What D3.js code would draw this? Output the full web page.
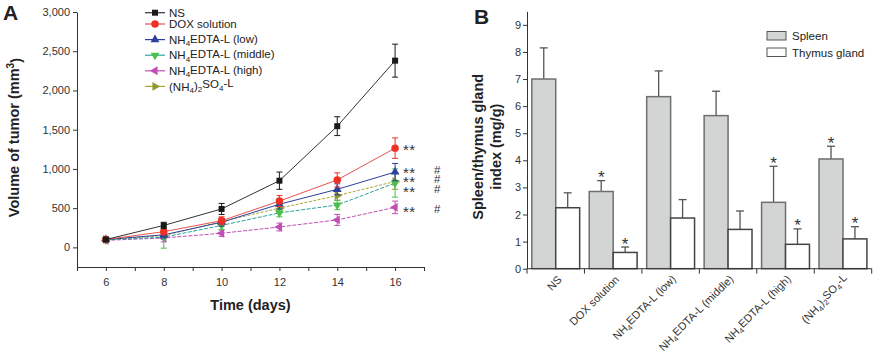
<!DOCTYPE html>
<html>
<head>
<meta charset="utf-8">
<script src="https://cdn.jsdelivr.net/npm/d3@7"></script>
<style>
  body { margin: 0; background: #fff; }
  svg { font-family: "Liberation Sans", Arial, sans-serif; }
  .axis text { font-size: 11px; fill: #333; }
  .axis path, .axis line { stroke: #333; }
</style>
</head>
<body>
<svg id="chart" width="886" height="364"></svg>
<script>
// ---- panel A data ----
const days = [6, 8, 10, 12, 14, 16];
const seriesNames = ['NS', 'DOX solution', 'NH_4EDTA-L (low)', 'NH_4EDTA-L (middle)', 'NH_4EDTA-L (high)', '(NH_4)_2SO_4-L'];
const nsVol = [100, 280, 490, 850, 1545, 2380];
const doxVol = [100, 200, 340, 590, 860, 1265];
const lowVol = [100, 160, 320, 550, 740, 960];
const middleVol = [95, 130, 280, 440, 540, 820];
const highVol = [90, 120, 180, 260, 350, 510];
const so4Vol = [100, 150, 330, 500, 660, 840];
const nsErr = [20, 40, 70, 110, 120, 210];
const doxErr = [15, 40, 50, 70, 90, 130];
const lowErr = [15, 40, 50, 60, 70, 110];
const middleErr = [15, 140, 50, 50, 60, 180];
const highErr = [15, 50, 40, 50, 70, 80];
const so4Err = [15, 30, 40, 50, 60, 100];
const sigStars = ['**', '**', '**', '**', '**'];
const sigHash = ['', '#', '#', '#', '#'];
const sigLevel = [1290, 1000, 885, 755, 500];
const volTicks = [0, 500, 1000, 1500, 2000, 2500, 3000];

// ---- panel B data ----
const groups = ['NS', 'DOX solution', 'NH_4EDTA-L (low)', 'NH_4EDTA-L (middle)', 'NH_4EDTA-L (high)', '(NH_4)_2SO_4-L'];
const organs = ['Spleen', 'Thymus gland'];
const spleen = [7.0, 2.85, 6.35, 5.65, 2.45, 4.05];
const spleenErr = [1.15, 0.4, 0.95, 0.9, 1.33, 0.47];
const thymus = [2.25, 0.6, 1.87, 1.45, 0.9, 1.1];
const thymusErr = [0.55, 0.2, 0.68, 0.68, 0.57, 0.45];
const spleenSig = ['', '*', '', '', '*', '*'];
const thymusSig = ['', '*', '', '', '*', '*'];
const indexTicks = [0, 1, 2, 3, 4, 5, 6, 7, 8, 9];

const svg = d3.select('#chart');

// writes "NH_4EDTA" style labels with subscript digits
function subText(sel, str) {
  let back = false;
  str.split(/(_\d)/).forEach(function(part) {
    if (!part) return;
    if (part[0] === '_') {
      sel.append('tspan').attr('font-size', '0.7em').attr('dy', back ? null : '0.3em').text(part.slice(1));
      back = true;
    } else {
      sel.append('tspan').attr('dy', back ? '-0.3em' : null).text(part);
      back = false;
    }
  });
}

// ================= Panel A =================
const xA = d3.scaleLinear().domain([5, 17]).range([77, 424]);
const yA = d3.scaleLinear().domain([-250, 3000]).range([267, 12]);

const gA = svg.append('g');

gA.append('g').attr('class', 'axis')
  .attr('transform', 'translate(0,' + yA(-250) + ')')
  .call(d3.axisBottom(xA).tickValues(d3.range(5, 18)).tickSizeInner(4).tickSizeOuter(0)
    .tickFormat(d => (d % 2 === 0 ? d : '')))
  .call(g => g.selectAll('text').attr('dy', '1.05em'));

gA.append('g').attr('class', 'axis')
  .attr('transform', 'translate(' + xA(5) + ',0)')
  .call(d3.axisLeft(yA).tickValues(volTicks).tickSizeInner(4).tickSizeOuter(0)
    .tickFormat(d3.format(',')))
  .call(g => g.selectAll('text').attr('x', -7));

gA.append('text').attr('x', 3).attr('y', 20)
  .attr('font-size', 21).attr('font-weight', 'bold').attr('fill', '#222').text('A');

const yLabA = gA.append('text')
  .attr('transform', 'translate(19,' + yA(1400) + ') rotate(-90)')
  .attr('text-anchor', 'middle').attr('font-size', 14.5).attr('font-weight', 'bold').attr('fill', '#222');
yLabA.append('tspan').text('Volume of tumor (mm');
yLabA.append('tspan').attr('font-size', '0.7em').attr('dy', '-0.5em').text('3');
yLabA.append('tspan').attr('dy', '0.5em').text(')');

gA.append('text').attr('x', xA(11)).attr('y', 310)
  .attr('text-anchor', 'middle').attr('font-size', 14.5).attr('font-weight', 'bold').attr('fill', '#222')
  .text('Time (days)');

const series = [
  { vals: nsVol, err: nsErr, color: '#1a1a1a', line: '#333', dash: null, sym: d3.symbolSquare, size: 36, rot: 0 },
  { vals: doxVol, err: doxErr, color: '#ee3124', line: '#e85050', dash: null, sym: d3.symbolCircle, size: 44, rot: 0 },
  { vals: lowVol, err: lowErr, color: '#2b3f9c', line: '#2b3f9c', dash: null, sym: d3.symbolTriangle, size: 34, rot: 0 },
  { vals: middleVol, err: middleErr, color: '#4cc04a', line: '#2aa59a', dash: '4,1.5', sym: d3.symbolTriangle, size: 34, rot: 180 },
  { vals: highVol, err: highErr, color: '#c24fb5', line: '#c24fb5', dash: '4,1.5', sym: d3.symbolTriangle, size: 34, rot: -90 },
  { vals: so4Vol, err: so4Err, color: '#8c9a2c', line: '#a8a830', dash: '3,1.5', sym: d3.symbolTriangle, size: 34, rot: 90 }
];

const line = d3.line().x(d => xA(d[0])).y(d => yA(d[1]));

series.slice().reverse().forEach(function(s) {
  const pts = days.map((d, i) => [d, s.vals[i], s.err[i]]);
  const g = gA.append('g');
  g.append('path').datum(pts).attr('d', line)
    .attr('fill', 'none').attr('stroke', s.line).attr('stroke-width', 1)
    .attr('stroke-dasharray', s.dash);
  const eb = g.selectAll('.eb').data(pts).join('g')
    .attr('stroke', s.color).attr('stroke-width', 1);
  eb.append('line')
    .attr('x1', d => xA(d[0])).attr('x2', d => xA(d[0]))
    .attr('y1', d => yA(d[1] - d[2])).attr('y2', d => yA(d[1] + d[2]));
  eb.append('line')
    .attr('x1', d => xA(d[0]) - 3).attr('x2', d => xA(d[0]) + 3)
    .attr('y1', d => yA(d[1] + d[2])).attr('y2', d => yA(d[1] + d[2]));
  eb.append('line')
    .attr('x1', d => xA(d[0]) - 3).attr('x2', d => xA(d[0]) + 3)
    .attr('y1', d => yA(d[1] - d[2])).attr('y2', d => yA(d[1] - d[2]));
  g.selectAll('.mk').data(pts).join('path')
    .attr('d', d3.symbol(s.sym, s.size))
    .attr('transform', d => 'translate(' + xA(d[0]) + ',' + yA(d[1]) + ') rotate(' + s.rot + ')')
    .attr('fill', s.color);
});

// significance marks at day 16
sigLevel.forEach(function(v, i) {
  gA.append('text').attr('x', 403).attr('y', yA(v)).attr('dy', '0.6em')
    .attr('font-size', 15).attr('letter-spacing', 0.5).attr('fill', '#333').text(sigStars[i]);
  gA.append('text').attr('x', 434).attr('y', yA(v)).attr('dy', '0.42em')
    .attr('font-size', 11.5).attr('fill', '#333').text(sigHash[i]);
});

// legend A
const legA = gA.append('g').attr('transform', 'translate(145,0)');
let ly = 12.7;
seriesNames.forEach(function(name, i) {
  const s = series[i];
  const row = legA.append('g').attr('transform', 'translate(0,' + ly + ')');
  row.append('line').attr('x1', 0).attr('x2', 20).attr('stroke', s.line).attr('stroke-width', 1.2);
  row.append('path').attr('d', d3.symbol(s.sym, s.size))
    .attr('transform', 'translate(10,0) rotate(' + s.rot + ')').attr('fill', s.color);
  const t = row.append('text').attr('x', 24).attr('dy', '0.36em')
    .attr('font-size', 11.5).attr('fill', '#222');
  subText(t, name);
  ly += (name.indexOf('_') >= 0 || (seriesNames[i + 1] || '').indexOf('_') >= 0) ? 15.6 : 11.3;
});

// ================= Panel B =================
const xB = d3.scaleBand().domain(groups).range([527, 871.7]).padding(0);
const xOrg = d3.scaleBand().domain(organs).range([0, xB.bandwidth()]).paddingInner(0).paddingOuter(0.2);
const yB = d3.scaleLinear().domain([0, 9.5]).range([268.7, 11.3]);

const gB = svg.append('g');

gB.append('text').attr('x', 474).attr('y', 24)
  .attr('font-size', 21).attr('font-weight', 'bold').attr('fill', '#222').text('B');

const yLabB = gB.append('text')
  .attr('transform', 'translate(0,' + yB(4.5) + ') rotate(-90)')
  .attr('text-anchor', 'middle').attr('font-size', 14.5).attr('font-weight', 'bold').attr('fill', '#222');
yLabB.append('tspan').attr('x', 0).attr('y', 483).text('Spleen/thymus gland');
yLabB.append('tspan').attr('x', 0).attr('y', 501).text('index (mg/g)');

const barData = [];
groups.forEach(function(gname, i) {
  barData.push({ g: gname, o: organs[0], v: spleen[i], e: spleenErr[i], s: spleenSig[i] });
  barData.push({ g: gname, o: organs[1], v: thymus[i], e: thymusErr[i], s: thymusSig[i] });
});

const bars = gB.selectAll('.bar').data(barData).join('g');
bars.append('line')
  .attr('x1', d => xB(d.g) + xOrg(d.o) + xOrg.bandwidth() / 2)
  .attr('x2', d => xB(d.g) + xOrg(d.o) + xOrg.bandwidth() / 2)
  .attr('y1', d => yB(d.v)).attr('y2', d => yB(d.v + d.e))
  .attr('stroke', '#555').attr('stroke-width', 1.3);
bars.append('line')
  .attr('x1', d => xB(d.g) + xOrg(d.o) + xOrg.bandwidth() / 2 - 4)
  .attr('x2', d => xB(d.g) + xOrg(d.o) + xOrg.bandwidth() / 2 + 4)
  .attr('y1', d => yB(d.v + d.e)).attr('y2', d => yB(d.v + d.e))
  .attr('stroke', '#555').attr('stroke-width', 1.3);
bars.append('rect')
  .attr('x', d => xB(d.g) + xOrg(d.o))
  .attr('width', xOrg.bandwidth())
  .attr('y', d => yB(d.v))
  .attr('height', d => yB(0) - yB(d.v))
  .attr('fill', d => (d.o === 'Spleen' ? '#d2d5d4' : '#fff'))
  .attr('stroke', d => (d.o === 'Spleen' ? '#6f6f6f' : '#444'))
  .attr('stroke-width', 1.5);
bars.filter(d => d.s).append('text')
  .attr('x', d => xB(d.g) + xOrg(d.o) + xOrg.bandwidth() / 2)
  .attr('y', d => yB(d.v + d.e))
  .attr('dy', '0.15em')
  .attr('text-anchor', 'middle').attr('font-size', 17).attr('fill', '#333')
  .text(d => d.s);

gB.append('g').attr('class', 'axis')
  .attr('transform', 'translate(' + xB.range()[0] + ',0)')
  .call(d3.axisLeft(yB).tickValues(indexTicks).tickSizeInner(4).tickSizeOuter(0))
  .call(g => g.selectAll('text').attr('x', -6));

const xAxisB = gB.append('g').attr('class', 'axis').attr('transform', 'translate(0,' + yB(0) + ')');
xAxisB.append('line').attr('x1', xB.range()[0]).attr('x2', xB.range()[1]).attr('stroke', '#333');
xAxisB.selectAll('.sep').data(groups.concat([null])).join('line')
  .attr('x1', (d, i) => xB.range()[0] + i * xB.step())
  .attr('x2', (d, i) => xB.range()[0] + i * xB.step())
  .attr('y1', 0).attr('y2', 5).attr('stroke', '#333');
xAxisB.selectAll('.lbl').data(groups).join('text')
  .attr('transform', d => 'translate(' + (xB(d) + xB.bandwidth() / 2 + 4) + ',9) rotate(-45)')
  .attr('text-anchor', 'end').attr('dy', '0.35em').attr('font-size', 11.5).attr('fill', '#333')
  .each(function(d) { subText(d3.select(this), d); });

// legend B
const legB = gB.append('g').attr('transform', 'translate(767,0)');
organs.forEach(function(o, i) {
  const yy = 31.5 + i * 16.5;
  legB.append('rect').attr('x', 0).attr('y', yy).attr('width', 19).attr('height', 8.5)
    .attr('fill', i === 0 ? '#d2d5d4' : '#fff').attr('stroke', '#555').attr('stroke-width', 1);
  legB.append('text').attr('x', 25).attr('y', yy + 4.5).attr('dy', '0.35em')
    .attr('font-size', 11.5).attr('fill', '#222').text(o);
});
</script>
</body>
</html>
